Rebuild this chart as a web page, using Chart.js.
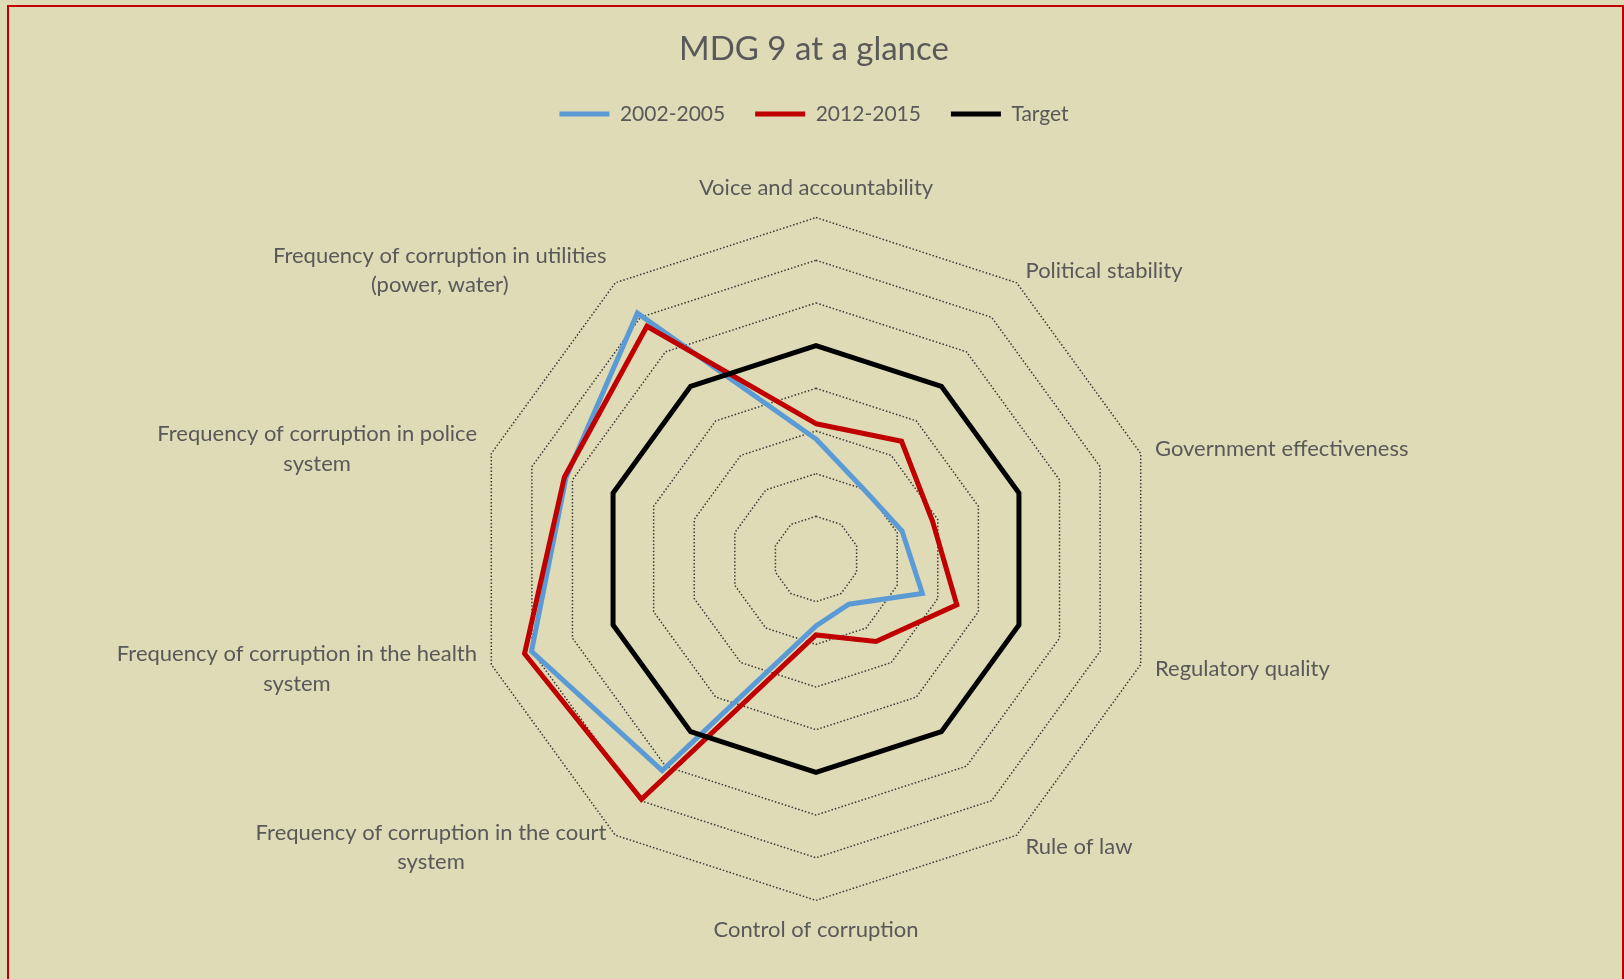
<!DOCTYPE html>
<html>
<head>
<meta charset="utf-8">
<title>MDG 9 at a glance</title>
<script src="https://cdn.jsdelivr.net/npm/chart.js@4.4.1/dist/chart.umd.min.js"></script>
<style>
  html, body {
    margin: 0;
    padding: 0;
    width: 1624px;
    height: 979px;
    overflow: hidden;
    background: #DFDBB6;
  }
  #wrap {
    position: relative;
    width: 1624px;
    height: 979px;
  }
  #radar {
    position: absolute;
    left: 0;
    top: 0;
  }
  /* red frame around the chart */
  #frame {
    position: absolute;
    left: 7px;
    top: 5px;
    right: 0;
    height: 1000px;
    border: 2px solid #C00000;
    box-sizing: border-box;
    pointer-events: none;
  }
</style>
</head>
<body>
<div id="wrap">
  <canvas id="radar" width="1624" height="984"></canvas>
  <div id="frame"></div>
</div>
<script>
// Governance indicators, clockwise from the top
const categories = [
    'Voice and accountability',
    'Political stability',
    'Government effectiveness',
    'Regulatory quality',
    'Rule of law',
    'Control of corruption',
    ['Frequency of corruption in the court', 'system'],
    ['Frequency of corruption in the health', 'system'],
    ['Frequency of corruption in police', 'system'],
    ['Frequency of corruption in utilities', '(power, water)']
];

// Scores per period and the target level
const values2002to2005 = [2.81, 1.97, 2.12, 2.62, 1.31, 1.57, 6.13, 7.01, 6.16, 7.12];
const values2012to2015 = [3.17, 3.41, 2.87, 3.47, 2.39, 1.78, 6.96, 7.18, 6.20, 6.74];
const targetValues = [5, 5, 5, 5, 5, 5, 5, 5, 5, 5];

// Series names and colours
const seriesNames = ['2002-2005', '2012-2015', 'Target'];
const seriesColors = ['#5B9BD5', '#C00000', '#000000'];

// Radial scale range (one ring per step)
const scaleMin = 0;
const scaleMax = 8;
const scaleStep = 1;

const textColor = '#595959';
const labelFont = { family: 'Lato', size: 22, lineHeight: 1.34 };

// Draws the category names with every line centred inside its block
const centeredLabels = {
    id: 'centeredLabels',
    afterDraw: function(chart) {
        const scale = chart.scales.r;
        const ctx = chart.ctx;
        const count = chart.data.labels.length;
        const lineH = labelFont.size * labelFont.lineHeight;
        ctx.save();
        ctx.font = labelFont.size + 'px ' + labelFont.family;
        ctx.fillStyle = textColor;
        ctx.textAlign = 'center';
        ctx.textBaseline = 'middle';
        for (let i = 0; i < count; i++) {
            const lines = [].concat(chart.data.labels[i]);
            const pos = scale.getPointPosition(i, scale.drawingArea + 15);
            const blockW = Math.max.apply(null, lines.map(l => ctx.measureText(l).width));
            const blockH = lines.length * lineH;
            let cx, top;
            if (i === 0) {
                cx = pos.x; top = pos.y - blockH;
            } else if (i === count / 2) {
                cx = pos.x; top = pos.y;
            } else if (i < count / 2) {
                cx = pos.x + blockW / 2; top = pos.y - blockH / 2;
            } else {
                cx = pos.x - blockW / 2; top = pos.y - blockH / 2;
            }
            lines.forEach(function(line, k) {
                ctx.fillText(line, cx, top + lineH * (k + 0.5));
            });
        }
        ctx.restore();
    }
};

function makeDataset(index, data, order) {
    return {
        label: seriesNames[index],
        data: data,
        borderColor: seriesColors[index],
        backgroundColor: seriesColors[index],
        borderWidth: 5,
        borderCapStyle: 'round',
        borderJoinStyle: 'miter',
        pointRadius: 0,
        pointHoverRadius: 0,
        fill: false,
        tension: 0,
        order: order
    };
}

new Chart(document.getElementById('radar').getContext('2d'), {
    type: 'radar',
    data: {
        labels: categories,
        datasets: [
            makeDataset(0, values2002to2005, 2),
            makeDataset(1, values2012to2015, 1),
            makeDataset(2, targetValues, 0)
        ]
    },
    options: {
        responsive: false,
        animation: false,
        devicePixelRatio: 1,
        layout: {
            padding: { left: 4, right: 0, top: 0, bottom: 0 }
        },
        plugins: {
            title: {
                display: true,
                text: 'MDG 9 at a glance',
                color: textColor,
                font: { family: 'Lato', size: 33, weight: 'normal', lineHeight: 1.2 },
                padding: { top: 30, bottom: 4 }
            },
            legend: {
                display: true,
                position: 'top',
                labels: {
                    color: textColor,
                    font: { family: 'Lato', size: 21 },
                    usePointStyle: true,
                    pointStyle: 'line',
                    pointStyleWidth: 50,
                    padding: 30,
                    // keep the legend in series order, not drawing order
                    sort: function(a, b) { return a.datasetIndex - b.datasetIndex; }
                }
            },
            tooltip: { enabled: false }
        },
        scales: {
            r: {
                min: scaleMin,
                max: scaleMax,
                beginAtZero: true,
                ticks: { display: false, stepSize: scaleStep },
                angleLines: { display: false },
                grid: {
                    color: '#3a3a3a',
                    lineWidth: 1.5,
                    circular: false,
                    borderDash: [1.5, 2]
                },
                border: { dash: [1.5, 2] },
                pointLabels: {
                    display: true,
                    color: 'rgba(0,0,0,0)',
                    font: labelFont,
                    padding: 53.5
                }
            }
        }
    },
    plugins: [centeredLabels]
});
</script>
</body>
</html>
